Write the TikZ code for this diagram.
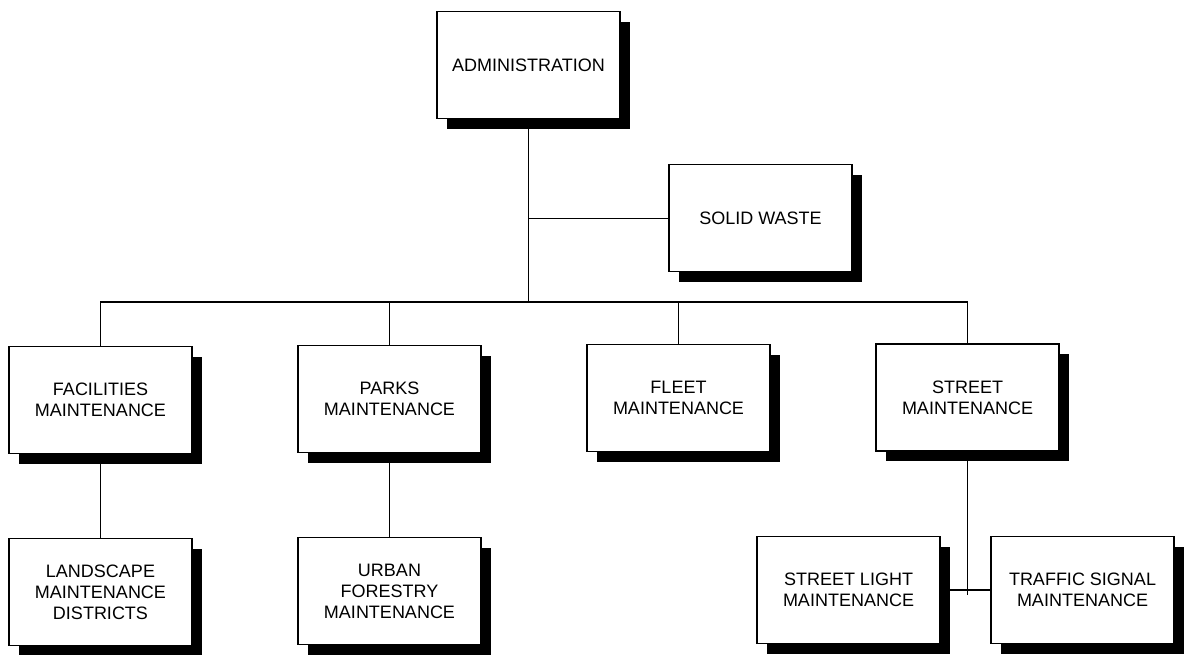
\documentclass[tikz,border=0pt]{standalone}
\usepackage{fontspec}
\setmainfont{Liberation Sans}
\usetikzlibrary{shadows}
\begin{document}
\begin{tikzpicture}[x=1pt,y=-1pt,
  orgbox/.style={draw=black, line width=1.8pt, fill=white, minimum width=183pt, minimum height=107pt,
    inner sep=0pt, align=center, font=\fontsize{18}{21}\selectfont,
    drop shadow={shadow xshift=10pt, shadow yshift=-10pt, fill=black, opacity=1}},
  link/.style={draw=black, line width=1.6pt},
  thinlink/.style={draw=black, line width=1.0pt}]
\useasboundingbox (0,0) rectangle (1184,654);
\node[orgbox] (adm) at (528.5,65) {ADMINISTRATION};
\node[orgbox] (sw) at (760.5,218) {SOLID WASTE};
\node[orgbox] (fac) at (100.5,400) {FACILITIES\\MAINTENANCE};
\node[orgbox] (parks) at (389.5,399) {PARKS\\MAINTENANCE};
\node[orgbox] (fleet) at (678.5,398) {FLEET\\MAINTENANCE};
\node[orgbox] (street) at (967.5,397.5) {STREET\\MAINTENANCE};
\node[orgbox] (land) at (100.5,592) {LANDSCAPE\\MAINTENANCE\\DISTRICTS};
\node[orgbox] (urban) at (389.5,591) {URBAN\\FORESTRY\\MAINTENANCE};
\node[orgbox] (sl) at (848.5,590) {STREET LIGHT\\MAINTENANCE};
\node[orgbox] (ts) at (1082.5,590) {TRAFFIC SIGNAL\\MAINTENANCE};
\coordinate (j) at (528.5,302);
\coordinate (k) at (967.5,595);
\draw[link] (adm.south) -- (j);
\draw[thinlink] (sw.west) -- (sw.west -| adm.south);
\draw[link] (fac.north) |- (j) -| (street.north);
\draw[link] (parks.north) -- (parks.north |- j);
\draw[link] (fleet.north) -- (fleet.north |- j);
\draw[link] (fac.south) -- (land.north);
\draw[link] (parks.south) -- (urban.north);
\draw[link] (street.south) -- (k);
\draw[link] (sl.east) -- (ts.west);
\end{tikzpicture}
\end{document}
